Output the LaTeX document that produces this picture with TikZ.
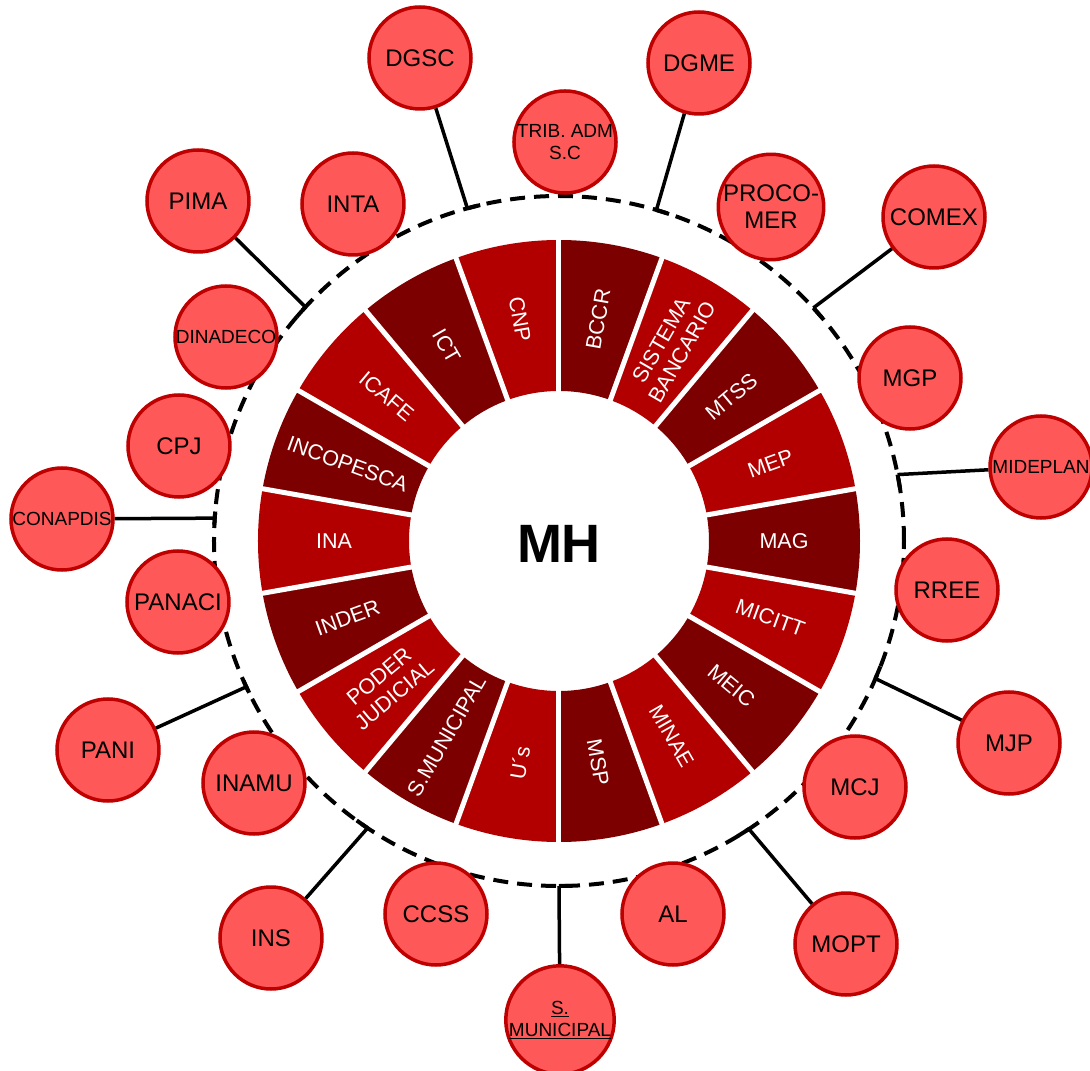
\documentclass[tikz,border=0pt]{standalone}
\usepackage{fontspec}
\setmainfont{Liberation Sans}
\definecolor{seglight}{RGB}{178,0,0}
\definecolor{segdark}{RGB}{125,0,0}
\definecolor{bubfill}{RGB}{255,88,88}
\definecolor{bubdraw}{RGB}{190,0,0}
\tikzset{
  bubble/.style={circle, fill=bubfill, draw=bubdraw, line width=3.5pt, minimum size=102pt,
    inner sep=0pt, align=center, text=black, font=\fontsize{24}{27}\selectfont},
  smallbub/.style={bubble, font=\fontsize{19}{22}\selectfont},
  link/.style={line width=3.5pt, black},
  tickarc/.style={line width=4pt, black},
  seglabel/.style={text=white, align=center, inner sep=0pt, font=\fontsize{21.5}{24}\selectfont},
  ringdash/.style={line width=4pt, black, dash pattern=on 15pt off 9pt},
}
\begin{document}
\begin{tikzpicture}[x=1pt,y=1pt]
\useasboundingbox (-559,-530) rectangle (531,541);
% dashed circle
\draw[ringdash] (0,0) circle[radius=345];
% ring segments
\foreach \a/\c in {100/seglight,80/segdark,60/seglight,40/segdark,20/seglight,0/segdark,
  -20/seglight,-40/segdark,-60/seglight,-80/segdark,-100/seglight,-120/segdark,
  -140/seglight,-160/segdark,180/seglight,160/segdark,140/seglight,120/segdark}
  \fill[\c] ({\a-10}:150) arc[start angle={\a-10}, end angle={\a+10}, radius=150]
     -- ({\a+10}:301) arc[start angle={\a+10}, end angle={\a-10}, radius=301] -- cycle;
\foreach \b in {90,110,...,430}
  \draw[white, line width=5pt] (\b:140) -- (\b:310);
% ring labels
\node[seglabel, rotate=-80] (lCNP) at (100:225) {CNP};
\node[seglabel, rotate=80] (lBCCR) at (80:225) {BCCR};
\node[seglabel, rotate=60] (lSB) at (60:225) {SISTEMA\\BANCARIO};
\node[seglabel, rotate=40] (lMTSS) at (40:225) {MTSS};
\node[seglabel, rotate=20] (lMEP) at (20:225) {MEP};
\node[seglabel, rotate=0] (lMAG) at (0:225) {MAG};
\node[seglabel, rotate=-20] (lMICITT) at (-20:225) {MICITT};
\node[seglabel, rotate=-40] (lMEIC) at (-40:225) {MEIC};
\node[seglabel, rotate=-60] (lMINAE) at (-60:225) {MINAE};
\node[seglabel, rotate=-80] (lMSP) at (-80:225) {MSP};
\node[seglabel, rotate=80] (lUs) at (-100:225) {U´s};
\node[seglabel, rotate=60] (lSM) at (-120:225) {S.MUNICIPAL};
\node[seglabel, rotate=40] (lPJ) at (-140:225) {PODER\\JUDICIAL};
\node[seglabel, rotate=20] (lINDER) at (-160:225) {INDER};
\node[seglabel, rotate=0] (lINA) at (180:225) {INA};
\node[seglabel, rotate=-20] (lINCO) at (160:225) {INCOPESCA};
\node[seglabel, rotate=-40] (lICAFE) at (140:225) {ICAFE};
\node[seglabel, rotate=-60] (lICT) at (120:225) {ICT};
% center
\node[font=\fontsize{54}{60}\selectfont\bfseries] (MH) at (0,-3) {MH};
% connection points on dashed circle
\coordinate (cDGSC) at (105.4:345);
\coordinate (cDGME) at (73.6:345);
\coordinate (cPIMA) at (137.3:345);
\coordinate (cCOMEX) at (42.5:345);
\coordinate (cCONAPDIS) at (176.2:345);
\coordinate (cMIDEPLAN) at (11.1:345);
\coordinate (cPANI) at (205:345);
\coordinate (cMJP) at (-23.5:345);
\coordinate (cINS) at (236.3:345);
\coordinate (cMOPT) at (-56.6:345);
\coordinate (cSMUN) at (-90:345);
% small solid pieces at the joins
\draw[tickarc] (cDGSC) arc[start angle=105.4, delta angle=-2.2, radius=345];
\draw[tickarc] (cDGME) arc[start angle=73.6, delta angle=-2.2, radius=345];
\draw[tickarc] (cPIMA) arc[start angle=137.3, delta angle=2.2, radius=345];
\draw[tickarc] (cCOMEX) arc[start angle=42.5, delta angle=-2.2, radius=345];
\draw[tickarc] (177.3:345) arc[start angle=177.3, delta angle=-2.2, radius=345];
\draw[tickarc] (cMIDEPLAN) arc[start angle=11.1, delta angle=-2.2, radius=345];
\draw[tickarc] (206.1:345) arc[start angle=206.1, delta angle=-2.2, radius=345];
\draw[tickarc] (cMJP) arc[start angle=-23.5, delta angle=2.2, radius=345];
\draw[tickarc] (cINS) arc[start angle=236.3, delta angle=-2.2, radius=345];
\draw[tickarc] (cMOPT) arc[start angle=-56.6, delta angle=-2.2, radius=345];
\draw[tickarc] (cSMUN) arc[start angle=-90, delta angle=2.2, radius=345];
% outer bubbles
\node[bubble] (DGSC) at (-139,483) {DGSC};
\node[smallbub] (TRIB) at (6,399) {TRIB. ADM\\S.C};
\node[bubble] (DGME) at (140,478) {DGME};
\node[bubble] (PROCOMER) at (212,334) {PROCO-\\MER};
\node[bubble] (COMEX) at (375,324) {COMEX};
\node[bubble] (MGP) at (351,163) {MGP};
\node[smallbub] (MIDEPLAN) at (482,74) {MIDEPLAN};
\node[bubble] (RREE) at (388,-49) {RREE};
\node[bubble] (MJP) at (450,-202) {MJP};
\node[bubble] (MCJ) at (296,-246) {MCJ};
\node[bubble] (MOPT) at (287,-403) {MOPT};
\node[bubble] (AL) at (114,-373) {AL};
\node[smallbub] (SMUN) at (1,-479) {\underline{S.}\\\underline{MUNICIPAL}};
\node[bubble] (CCSS) at (-123,-373) {CCSS};
\node[bubble] (INS) at (-288,-397) {INS};
\node[bubble] (INAMU) at (-305,-242) {INAMU};
\node[bubble] (PANI) at (-451,-209) {PANI};
\node[bubble] (PANACI) at (-381,-61) {PANACI};
\node[smallbub] (CONAPDIS) at (-497,22) {CONAPDIS};
\node[bubble] (CPJ) at (-380,95) {CPJ};
\node[smallbub] (DINADECO) at (-333,204) {DINADECO};
\node[bubble] (PIMA) at (-361,340) {PIMA};
\node[bubble] (INTA) at (-206,337) {INTA};
% connectors
\draw[link] (DGSC) -- (cDGSC);
\draw[link] (DGME) -- (cDGME);
\draw[link] (PIMA) -- (cPIMA);
\draw[link] (COMEX) -- (cCOMEX);
\draw[link] (CONAPDIS) -- (cCONAPDIS);
\draw[link] (MIDEPLAN) -- (cMIDEPLAN);
\draw[link] (PANI) -- (cPANI);
\draw[link] (MJP) -- (cMJP);
\draw[link] (INS) -- (cINS);
\draw[link] (MOPT) -- (cMOPT);
\draw[link] (SMUN) -- (cSMUN);
\end{tikzpicture}
\end{document}
